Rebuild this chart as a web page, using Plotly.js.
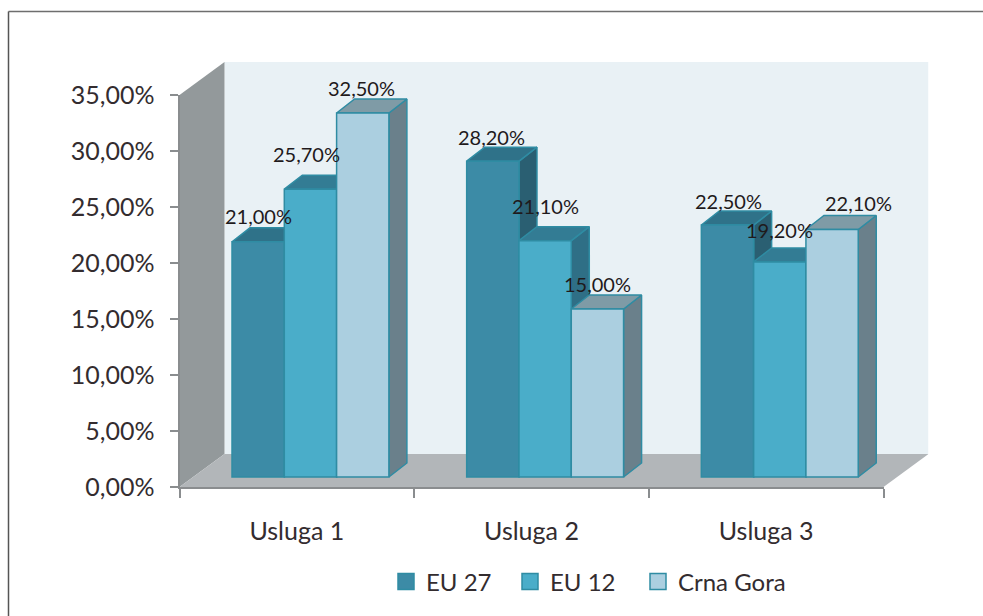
<!DOCTYPE html>
<html><head><meta charset="utf-8">
<script src="https://cdn.plot.ly/plotly-3.0.0.min.js"></script>
<style>html,body{margin:0;padding:0;background:#fff}#c{width:983px;height:616px}</style></head>
<body><div id="c"></div>
<script>
const categories = ["Usluga 1","Usluga 2","Usluga 3"];
const seriesNames = ["EU 27","EU 12","Crna Gora"];
const eu27 = [21.0, 28.2, 22.5];
const eu12 = [25.7, 21.1, 19.2];
const crnaGora = [32.5, 15.0, 22.1];
const labelsEu27 = ["21,00%","28,20%","22,50%"];
const labelsEu12 = ["25,70%","21,10%","19,20%"];
const labelsCrnaGora = ["32,50%","15,00%","22,10%"];
const series = [eu27, eu12, crnaGora];
const labels = [labelsEu27, labelsEu12, labelsCrnaGora];

// styles
const W=983,H=616;
const axisL=179.5,axisR=883.5,axisB=487,axisT=95;
const wallDX=45,wallDY=33;
const pxX=(axisR-axisL)/3, pxY=(axisB-axisT)/35;
const front=["#3c8ba6","#4aadc9","#abcfe0"];
const topC=["#2f7289","#337c94","#7f9ba6"];
const sideC=["#2a5f72","#2f6f86","#6a808b"];
const edge="#2f8ca3";
const textC="#332c2f";
// px offsets of each label centre from the bar centre / bar top
const labelDX=[[0,-1,1],[-4,0,0],[-1,0,26]];
const labelDY=[[-26,-24,-24],[-35,-35,-32],[-25,-25,-26]];
const legendLeft=[386,510,638];
const barPx=52.3, baseLift=10, depthX=18, depthY=14;
const barW=barPx/pxX;
const groupOffset=(232-(axisL+pxX/2))/pxX;
const dx=depthX/pxX, dy=depthY/pxY, base=baseLift/pxY;

const traces=[];
function poly(xs,ys,fill,line){
  traces.push({type:"scatter",mode:"lines",xaxis:"x",yaxis:"y",x:xs.concat(xs[0]),y:ys.concat(ys[0]),
    fill:"toself",fillcolor:fill,line:{color:line||fill,width:line?1.5:0},showlegend:false,hoverinfo:"skip"});
}
const rx=-0.5+(axisR-axisL+wallDX)/pxX, ry=(axisB-axisT+wallDY)/pxY;
const wx=wallDX/pxX, wy=wallDY/pxY;
poly([-0.5+wx,2.5+wx,2.5+wx,-0.5+wx],[wy,wy,35+wy,35+wy],"#e9f1f5");
poly([-0.5,-0.5+wx,-0.5+wx,-0.5],[0,wy,35+wy,35],"#93999b");
poly([-0.5,-0.5+wx,2.5+wx,2.5],[0,wy,wy,0],"#b2b6b9");
categories.forEach((c,i)=>{
  series.forEach((s,k)=>{
    const l=i+groupOffset+k*barW, r=l+barW, t=s[i]+base;
    poly([r,r+dx,r+dx,r],[base,base+dy,t+dy,t],sideC[k],edge);
    poly([l,l+dx,r+dx,r],[t,t+dy,t+dy,t],topC[k],edge);
  });
});
series.forEach((s,k)=>{
  traces.push({type:"bar",xaxis:"x2",yaxis:"y2",x:categories,y:s,base:base,name:seriesNames[k],
    width:barW,offset:groupOffset+k*barW,marker:{color:front[k],line:{color:edge,width:1.5}},showlegend:false,hoverinfo:"skip"});
});
const legendIds=["legend","legend2","legend3"];
series.forEach((s,k)=>{
  traces.push({type:"scatter",mode:"markers",xaxis:"x2",yaxis:"y2",x:categories,y:[null,null,null],name:seriesNames[k],
    legend:legendIds[k],showlegend:true,
    marker:{symbol:"square",size:16,color:front[k],line:{color:edge,width:1.5}},hoverinfo:"skip"});
});
const annotations=[];
series.forEach((s,k)=>s.forEach((v,i)=>{
  annotations.push({xref:"x",yref:"y",x:i+groupOffset+k*barW+barW/2,y:v+base,text:labels[k][i],showarrow:false,
    xanchor:"center",yanchor:"middle",xshift:labelDX[k][i],yshift:-labelDY[k][i],
    font:{family:"Lato",size:20,color:"#1f1a1c"}});
}));
const layout={
  width:W,height:H,margin:{l:0,r:0,t:0,b:0,pad:0},paper_bgcolor:"#fff",plot_bgcolor:"rgba(0,0,0,0)",
  separators:",.",barmode:"overlay",hovermode:false,
  font:{family:"Lato",color:textC},
  xaxis:{domain:[axisL/W,(axisR+wallDX)/W],range:[-0.5,rx],visible:false,fixedrange:true},
  yaxis:{domain:[1-axisB/H,1-(axisT-wallDY)/H],range:[0,ry],visible:false,fixedrange:true},
  xaxis2:{domain:[axisL/W,axisR/W],anchor:"y2",type:"category",categoryorder:"array",categoryarray:categories,range:[-0.5,2.5],
    tickson:"boundaries",ticks:"outside",ticklen:9,tickwidth:2,tickcolor:"#8a8d8f",
    showline:true,linecolor:"#8a8d8f",linewidth:2,showgrid:false,zeroline:false,
    tickfont:{family:"Lato",size:25,color:textC},ticklabelstandoff:21,fixedrange:true},
  yaxis2:{domain:[1-axisB/H,1-axisT/H],anchor:"x2",range:[0,35],tick0:0,dtick:5,tickformat:".2f",ticksuffix:"%",
    ticks:"outside",ticklen:8,tickwidth:2,tickcolor:"#8a8d8f",
    showline:true,linecolor:"#8a8d8f",linewidth:2,showgrid:false,zeroline:false,
    tickfont:{family:"Lato",size:25,color:textC},ticklabelstandoff:10,fixedrange:true},
  annotations:annotations,
  shapes:[
    {type:"line",xref:"paper",yref:"paper",x0:8.5/W,x1:1,y0:1-11.5/H,y1:1-11.5/H,line:{color:"#6e6e6e",width:1.5}},
    {type:"line",xref:"paper",yref:"paper",x0:8.5/W,x1:8.5/W,y0:0,y1:1-11.5/H,line:{color:"#555555",width:1.5}}
  ]
};
legendIds.forEach((id,k)=>{
  layout[id]={orientation:"h",x:legendLeft[k]/W,xanchor:"left",y:1-582/H,yanchor:"middle",
    font:{family:"Lato",size:24,color:textC},itemwidth:30,bgcolor:"rgba(0,0,0,0)",itemclick:false,itemdoubleclick:false};
});
Plotly.newPlot("c",traces,layout,{displayModeBar:false,staticPlot:true});
</script></body></html>
